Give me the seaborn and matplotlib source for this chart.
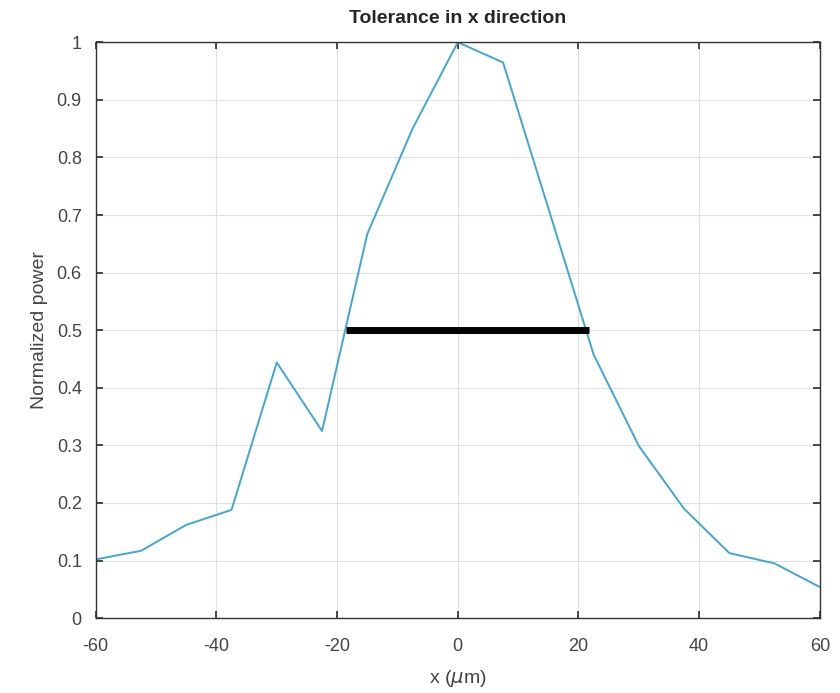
import matplotlib
matplotlib.use("Agg")
import matplotlib.pyplot as plt
import seaborn as sns
import pandas as pd

x_um = [-60, -52.5, -45, -37.5, -30, -22.5, -15, -7.5, 0, 7.5, 15, 22.5, 30, 37.5, 45, 52.5, 60]
power = [0.102, 0.117, 0.162, 0.188, 0.444, 0.325, 0.667, 0.85, 1.0, 0.965, 0.712, 0.458, 0.299, 0.19, 0.113, 0.095, 0.054]
bar_x = [-18.6, 21.7]
bar_y = [0.5, 0.5]
xticks = [-60, -40, -20, 0, 20, 40, 60]
yticks = [0, 0.1, 0.2, 0.3, 0.4, 0.5, 0.6, 0.7, 0.8, 0.9, 1]
ytick_labels = ["0", "0.1", "0.2", "0.3", "0.4", "0.5", "0.6", "0.7", "0.8", "0.9", "1"]

sns.set_theme(style="white")
plt.rcParams['font.family'] = ['Liberation Sans', 'DejaVu Sans']

df = pd.DataFrame({"x": x_um, "p": power})
fig = plt.figure(figsize=(8.4, 6.93), dpi=100)
ax = fig.add_axes([0.114, 0.108, 0.862, 0.831])

sns.lineplot(data=df, x="x", y="p", ax=ax, color="#3fa6d6", linewidth=1.4)
sns.lineplot(x=bar_x, y=bar_y, ax=ax, color="black", linewidth=5, solid_capstyle="butt")

ax.set_xlim(-60, 60)
ax.set_ylim(0, 1)
ax.set_xticks(xticks)
ax.set_xticklabels([str(t) for t in xticks])
ax.set_yticks(yticks)
ax.set_yticklabels(ytick_labels)
ax.grid(True, color="#e0e0e0", linewidth=0.8)
ax.set_axisbelow(True)
for s in ax.spines.values():
    s.set_visible(True)
    s.set_color("#333333")
    s.set_linewidth(1.0)
ax.tick_params(direction="in", length=5, color="#333333", labelcolor="#444444",
               labelsize=13, top=True, right=True, bottom=True, left=True,
               labeltop=False, labelright=False)
ax.tick_params(axis="x", pad=14)
ax.tick_params(axis="y", pad=10)
ax.set_xlabel("x ($\\mu$m)", fontsize=14, color="#444444", labelpad=10)
ax.set_ylabel("Normalized power", fontsize=14, color="#444444", labelpad=6)
ax.set_title("Tolerance in x direction", fontsize=14, fontweight="bold", pad=14)

fig.savefig("out.png", dpi=100)
